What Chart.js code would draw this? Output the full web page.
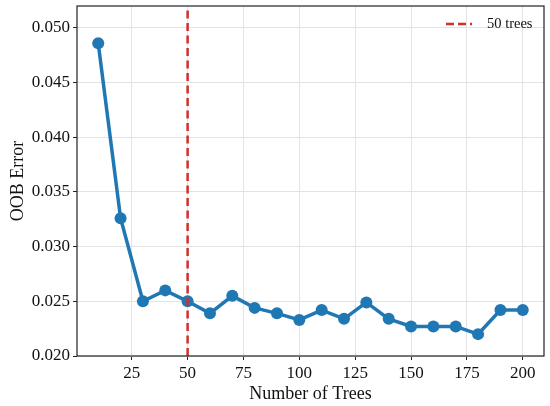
<!DOCTYPE html>
<html>
<head>
<meta charset="utf-8">
<script src="https://cdn.jsdelivr.net/npm/chart.js@4.4.1/dist/chart.umd.min.js"></script>
<style>
  html, body { margin: 0; padding: 0; background: #fff; }
  #wrap { width: 550px; height: 406px; position: relative; }
</style>
</head>
<body>
<div id="wrap"><canvas id="oobChart"></canvas></div>
<script>
// Data
const nTrees = [10, 20, 30, 40, 50, 60, 70, 80, 90, 100, 110, 120, 130, 140, 150, 160, 170, 180, 190, 200];
const oobError = [0.0486, 0.0326, 0.0250, 0.0260, 0.0250, 0.0239, 0.0255, 0.0244, 0.0239, 0.0233,
                  0.0242, 0.0234, 0.0249, 0.0234, 0.0227, 0.0227, 0.0227, 0.0220, 0.0242, 0.0242];
const chosenTrees = 50;
const xTicks = [25, 50, 75, 100, 125, 150, 175, 200];
const yTicks = [0.020, 0.025, 0.030, 0.035, 0.040, 0.045, 0.050];
const xRange = [0.5, 209.5];
const yRange = [0.020, 0.052];

const SERIF = '"Liberation Serif", "DejaVu Serif", serif';

// frame round the plot + legend inside the plot (top right)
const framePlugin = {
    id: 'frame',
    afterDatasetsDraw(chart) {
        const { ctx, chartArea: a } = chart;
        ctx.save();
        ctx.strokeStyle = '#222';
        ctx.lineWidth = 1.2;
        ctx.strokeRect(a.left, a.top, a.right - a.left, a.bottom - a.top);

        // legend for the dashed line
        const ds = chart.data.datasets[0];
        const y = a.top + 18;
        ctx.strokeStyle = ds.borderColor;
        ctx.lineWidth = 2.5;
        ctx.setLineDash([8, 4]);
        ctx.beginPath();
        ctx.moveTo(446, y);
        ctx.lineTo(472, y);
        ctx.stroke();
        ctx.setLineDash([]);
        ctx.fillStyle = '#111';
        ctx.font = '14.5px ' + SERIF;
        ctx.textBaseline = 'middle';
        ctx.fillText(ds.label, 487, y);
        ctx.restore();
    }
};

const ctx = document.getElementById('oobChart').getContext('2d');
const chart = new Chart(ctx, {
    type: 'line',
    data: {
        datasets: [{
            label: chosenTrees + ' trees',
            data: [{ x: chosenTrees, y: yRange[0] }, { x: chosenTrees, y: yRange[1] }],
            borderColor: '#d0302d',
            borderWidth: 2.5,
            borderDash: [8, 4.5],
            pointRadius: 0,
            order: 0
        }, {
            label: 'OOB Error',
            data: nTrees.map((n, i) => ({ x: n, y: oobError[i] })),
            borderColor: '#1f77b4',
            backgroundColor: '#1f77b4',
            borderWidth: 3.5,
            pointRadius: 6,
            pointBorderWidth: 0,
            pointBackgroundColor: '#1f77b4',
            order: 1
        }]
    },
    options: {
        responsive: true,
        maintainAspectRatio: false,
        animation: false,
        layout: { padding: { top: 6, right: 5, left: 7, bottom: 0 } },
        plugins: {
            legend: { display: false },
            tooltip: { enabled: false }
        },
        scales: {
            x: {
                type: 'linear',
                min: xRange[0],
                max: xRange[1],
                afterBuildTicks: s => { s.ticks = xTicks.map(v => ({ value: v })); },
                afterFit: s => { s.height = 50; s.paddingLeft = 0; s.paddingRight = 0; },
                grid: { color: '#e3e3e3', lineWidth: 1, tickLength: 4, tickColor: '#222' },
                border: { display: false },
                ticks: { color: '#111', font: { family: SERIF, size: 17 }, padding: 3, maxRotation: 0 },
                title: { display: true, text: 'Number of Trees', color: '#111',
                         font: { family: SERIF, size: 18 }, padding: { top: 0, bottom: 1 } }
            },
            y: {
                min: yRange[0],
                max: yRange[1],
                afterBuildTicks: s => { s.ticks = yTicks.map(v => ({ value: v })); },
                afterFit: s => { s.width = 70; s.paddingTop = 0; s.paddingBottom = 0; },
                grid: { color: '#e3e3e3', lineWidth: 1, tickLength: 4, tickColor: '#222' },
                border: { display: false },
                ticks: { color: '#111', font: { family: SERIF, size: 17 }, padding: 3,
                         callback: v => v.toFixed(3) },
                title: { display: true, text: 'OOB Error', color: '#111',
                         font: { family: SERIF, size: 18 }, padding: { top: 0, bottom: 0 } }
            }
        }
    },
    plugins: [framePlugin]
});
</script>
</body>
</html>
